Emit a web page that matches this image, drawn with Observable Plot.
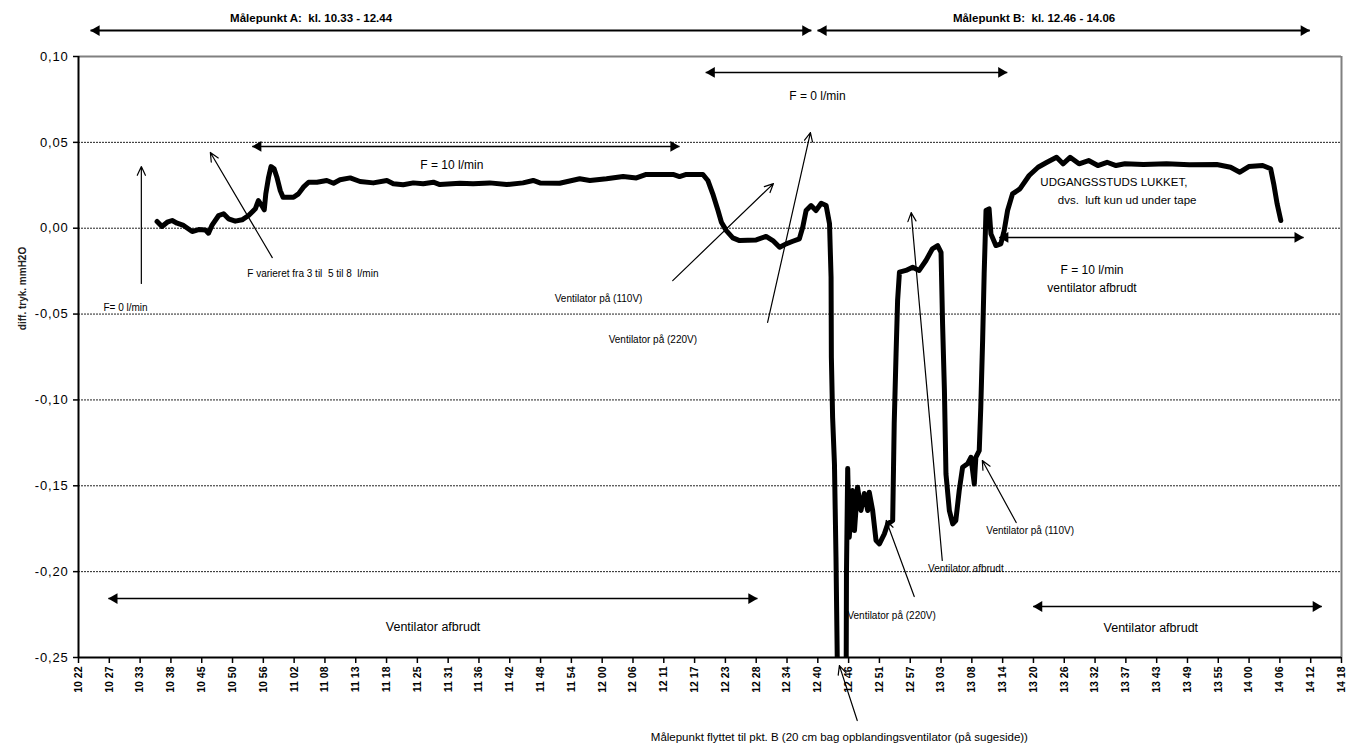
<!DOCTYPE html>
<html><head><meta charset="utf-8">
<script src="https://cdn.jsdelivr.net/npm/d3@7"></script>
<script src="https://cdn.jsdelivr.net/npm/@observablehq/plot@0.6"></script>
<style>html,body{margin:0;padding:0;background:#fff;}
g[aria-label="y-axis tick label"] text{letter-spacing:0.8px;}
</style>
</head><body><div id="chart"></div>
<script>
// Category tick labels (Excel category axis, one tick every N samples)
const xLabels = ["10 22","10 27","10 33","10 38","10 45","10 50","10 56","11 02","11 08","11 13","11 18","11 25","11 31","11 36","11 42","11 48","11 54","12 00","12 06","12 11","12 17","12 23","12 28","12 34","12 40","12 46","12 51","12 57","13 03","13 08","13 14","13 20","13 26","13 32","13 37","13 43","13 49","13 55","14 00","14 06","14 12","14 18"];
const yTicks = [-0.25,-0.2,-0.15,-0.1,-0.05,0,0.05,0.1];
const gridValues = [-0.2,-0.15,-0.1,-0.05,0,0.05];

// Series: position along the category axis (in tick units) and diff. pressure (mmH2O)
const seriesX = [2.55,2.71,2.88,3.04,3.20,3.41,3.69,3.90,4.12,4.22,4.33,4.55,4.71,4.87,5.09,5.31,5.52,5.74,5.84,5.95,6.03,6.08,6.17,6.25,6.35,6.44,6.55,6.64,6.98,7.14,7.30,7.47,7.74,8.06,8.28,8.49,8.82,9.14,9.57,10.01,10.22,10.54,10.87,11.19,11.52,11.73,12.38,12.81,13.35,13.90,14.43,14.76,14.98,15.62,16.27,16.60,17.14,17.68,18.11,18.43,18.87,19.30,19.51,19.73,20.27,20.43,20.59,20.76,20.87,21.03,21.24,21.46,22.00,22.32,22.54,22.76,22.97,23.19,23.40,23.51,23.62,23.78,23.94,24.11,24.27,24.38,24.43,24.44,24.48,24.54,24.59,24.64,24.92,24.93,24.97,25.02,25.13,25.19,25.29,25.40,25.51,25.62,25.67,25.78,25.89,26.00,26.16,26.27,26.43,26.48,26.54,26.59,26.65,26.86,27.08,27.29,27.51,27.72,27.89,28.00,28.05,28.11,28.16,28.27,28.38,28.48,28.59,28.70,28.86,28.97,29.08,29.13,29.24,29.29,29.35,29.40,29.46,29.56,29.62,29.78,29.94,30.05,30.16,30.32,30.56,30.86,31.15,31.44,31.75,31.96,32.19,32.48,32.79,33.09,33.39,33.68,33.97,34.57,35.32,36.06,36.95,37.40,37.70,37.99,38.44,38.70,38.80,38.91,39.03];
const seriesY = [0.0039,0.0010,0.0035,0.0045,0.0029,0.0016,-0.0019,-0.0008,-0.0010,-0.0029,0.0016,0.0074,0.0084,0.0055,0.0041,0.0049,0.0074,0.0113,0.0161,0.0132,0.0107,0.0200,0.0297,0.0359,0.0346,0.0297,0.0219,0.0180,0.0180,0.0200,0.0239,0.0268,0.0268,0.0278,0.0262,0.0282,0.0293,0.0272,0.0264,0.0278,0.0259,0.0253,0.0264,0.0259,0.0268,0.0254,0.0262,0.0259,0.0264,0.0254,0.0264,0.0278,0.0264,0.0262,0.0288,0.0278,0.0288,0.0301,0.0293,0.0313,0.0313,0.0313,0.0301,0.0313,0.0313,0.0278,0.0200,0.0103,0.0035,-0.0014,-0.0056,-0.0072,-0.0068,-0.0048,-0.0072,-0.0111,-0.0091,-0.0076,-0.0062,0.0006,0.0103,0.0132,0.0103,0.0145,0.0132,0.0026,-0.0285,-0.0751,-0.1101,-0.1372,-0.1916,-0.2634,-0.2634,-0.2011,-0.1400,-0.1800,-0.1528,-0.1761,-0.1508,-0.1644,-0.1545,-0.1644,-0.1538,-0.1644,-0.1819,-0.1838,-0.1780,-0.1722,-0.1702,-0.1139,-0.0732,-0.0421,-0.0256,-0.0246,-0.0227,-0.0246,-0.0188,-0.0120,-0.0101,-0.0140,-0.0557,-0.0945,-0.1431,-0.1644,-0.1722,-0.1702,-0.1528,-0.1392,-0.1372,-0.1334,-0.1489,-0.1334,-0.1295,-0.1043,-0.0654,-0.0266,0.0103,0.0113,-0.0033,-0.0101,-0.0091,-0.0014,0.0103,0.0200,0.0229,0.0307,0.0355,0.0384,0.0413,0.0375,0.0413,0.0375,0.0394,0.0365,0.0384,0.0365,0.0375,0.0371,0.0375,0.0369,0.0371,0.0355,0.0326,0.0359,0.0365,0.0346,0.0258,0.0142,0.0045];

// Annotations (data units)
const doubleArrows = [
  {x1:0.39, x2:23.79, y:0.1151, w:2},
  {x1:23.99, x2:39.97, y:0.1151, w:2},
  {x1:20.36, x2:30.15, y:0.0907, w:1.5},
  {x1:5.64, x2:19.51, y:0.0476, w:1.5},
  {x1:0.97, x2:22.04, y:-0.2157, w:1.5},
  {x1:30.99, x2:40.36, y:-0.2203, w:1.5},
  {x1:29.89, x2:39.77, y:-0.0054, w:1.5}
];
const singleArrows = [
  {x1:2.04, y1:-0.0322, x2:2.04, y2:0.0359},
  {x1:6.29, y1:-0.0171, x2:4.28, y2:0.0441},
  {x1:19.29, y1:-0.0305, x2:22.56, y2:0.0260},
  {x1:22.37, y1:-0.0549, x2:23.76, y2:0.0557},
  {x1:27.13, y1:-0.2145, x2:26.22, y2:-0.1702},
  {x1:28.04, y1:-0.1935, x2:27.03, y2:0.0091},
  {x1:30.44, y1:-0.1714, x2:29.34, y2:-0.1353},
  {x1:25.28, y1:-0.2867, x2:24.70, y2:-0.2547}
];
const titleLabels = [
  {x:7.55, y:0.1221, text:"Målepunkt A:  kl. 10.33 - 12.44"},
  {x:31.02, y:0.1221, text:"Målepunkt B:  kl. 12.46 - 14.06"}
];
const centerLabels = [
  {x:23.99, y:0.0767, text:"F = 0 l/min", size:12},
  {x:12.12, y:0.0365, text:"F = 10 l/min", size:12},
  {x:33.61, y:0.0266, text:"UDGANGSSTUDS LUKKET,", size:11.5},
  {x:34.04, y:0.0161, text:"dvs.  luft kun ud under tape", size:11.5},
  {x:32.90, y:-0.0246, text:"F = 10 l/min", size:12},
  {x:32.90, y:-0.0351, text:"ventilator afbrudt", size:12},
  {x:11.51, y:-0.2320, text:"Ventilator afbrudt", size:12.5},
  {x:34.81, y:-0.2326, text:"Ventilator afbrudt", size:12.5},
  {x:24.70, y:-0.2966, text:"Målepunkt flyttet til pkt. B (20 cm bag opblandingsventilator (på sugeside))", size:11.5}
];
const startLabels = [
  {x:0.81, y:-0.0462, text:"F= 0 l/min"},
  {x:5.48, y:-0.0264, text:"F varieret fra 3 til  5 til 8  l/min"},
  {x:15.46, y:-0.0410, text:"Ventilator på (110V)"},
  {x:17.21, y:-0.0648, text:"Ventilator på (220V)"},
  {x:24.96, y:-0.2256, text:"Ventilator på (220V)"},
  {x:27.58, y:-0.1982, text:"Ventilator afbrudt"},
  {x:29.47, y:-0.1761, text:"Ventilator på (110V)"}
];
const yTitle = "diff. tryk. mmH2O";

const data = seriesX.map((x, i) => ({x, y: seriesY[i]}));
const fmtY = d => (d < 0 ? "-" : "") + Math.abs(d).toFixed(2).replace(".", ",");

const chart = Plot.plot({
  width: 1359, height: 747,
  marginLeft: 78, marginRight: 18, marginTop: 56, marginBottom: 90,
  x: {domain: [0, 41], axis: null},
  y: {domain: [-0.25, 0.1], axis: null},
  style: {fontFamily: "'Liberation Sans', Arial, sans-serif", background: "#fff", overflow: "visible", color: "#000"},
  marks: [
    Plot.ruleY(gridValues, {stroke: "#222", strokeWidth: 1, strokeDasharray: "2,1"}),
    Plot.ruleY([0.1], {stroke: "#808080", strokeWidth: 2}),
    Plot.ruleX([41], {stroke: "#808080", strokeWidth: 2}),
    Plot.line(data, {x: "x", y: "y", stroke: "#000", strokeWidth: 5, strokeLinejoin: "round", clip: true}),
    Plot.ruleX([0], {stroke: "#000", strokeWidth: 2}),
    Plot.ruleY([-0.25], {stroke: "#000", strokeWidth: 2}),
    Plot.axisY({ticks: yTicks, tickFormat: fmtY, tickSize: 5, tickPadding: 5, fontSize: 13, strokeWidth: 1.5}),
    Plot.axisX({ticks: d3.range(42), tickFormat: i => xLabels[i], tickRotate: -90, tickSize: 6, tickPadding: 3, fontSize: 10.5, fontWeight: "bold", strokeWidth: 1.5}),
    Plot.text([yTitle], {x: -1.815, y: -0.0351, text: d => d, rotate: -90, fontSize: 10, fontWeight: "bold", fill: "#222"}),
    Plot.link(doubleArrows, {x1: "x1", x2: "x2", y1: "y", y2: "y", stroke: "#000", strokeWidth: "w"}),
    Plot.dot(doubleArrows, {x: "x1", y: "y", symbol: "triangle", r: 4, rotate: -90, dx: 6, fill: "#000", stroke: "none"}),
    Plot.dot(doubleArrows, {x: "x2", y: "y", symbol: "triangle", r: 4, rotate: 90, dx: -6, fill: "#000", stroke: "none"}),
    Plot.arrow(singleArrows, {x1: "x1", y1: "y1", x2: "x2", y2: "y2", stroke: "#000", strokeWidth: 1.2, headLength: 12, headAngle: 50}),
    Plot.text(titleLabels, {x: "x", y: "y", text: "text", fontSize: 11.5, fontWeight: "bold"}),
    Plot.text(centerLabels, {x: "x", y: "y", text: "text", fontSize: "size"}),
    Plot.text(startLabels, {x: "x", y: "y", text: "text", fontSize: 10, textAnchor: "start"})
  ]
});
document.getElementById("chart").appendChild(chart);
</script>
</body></html>
